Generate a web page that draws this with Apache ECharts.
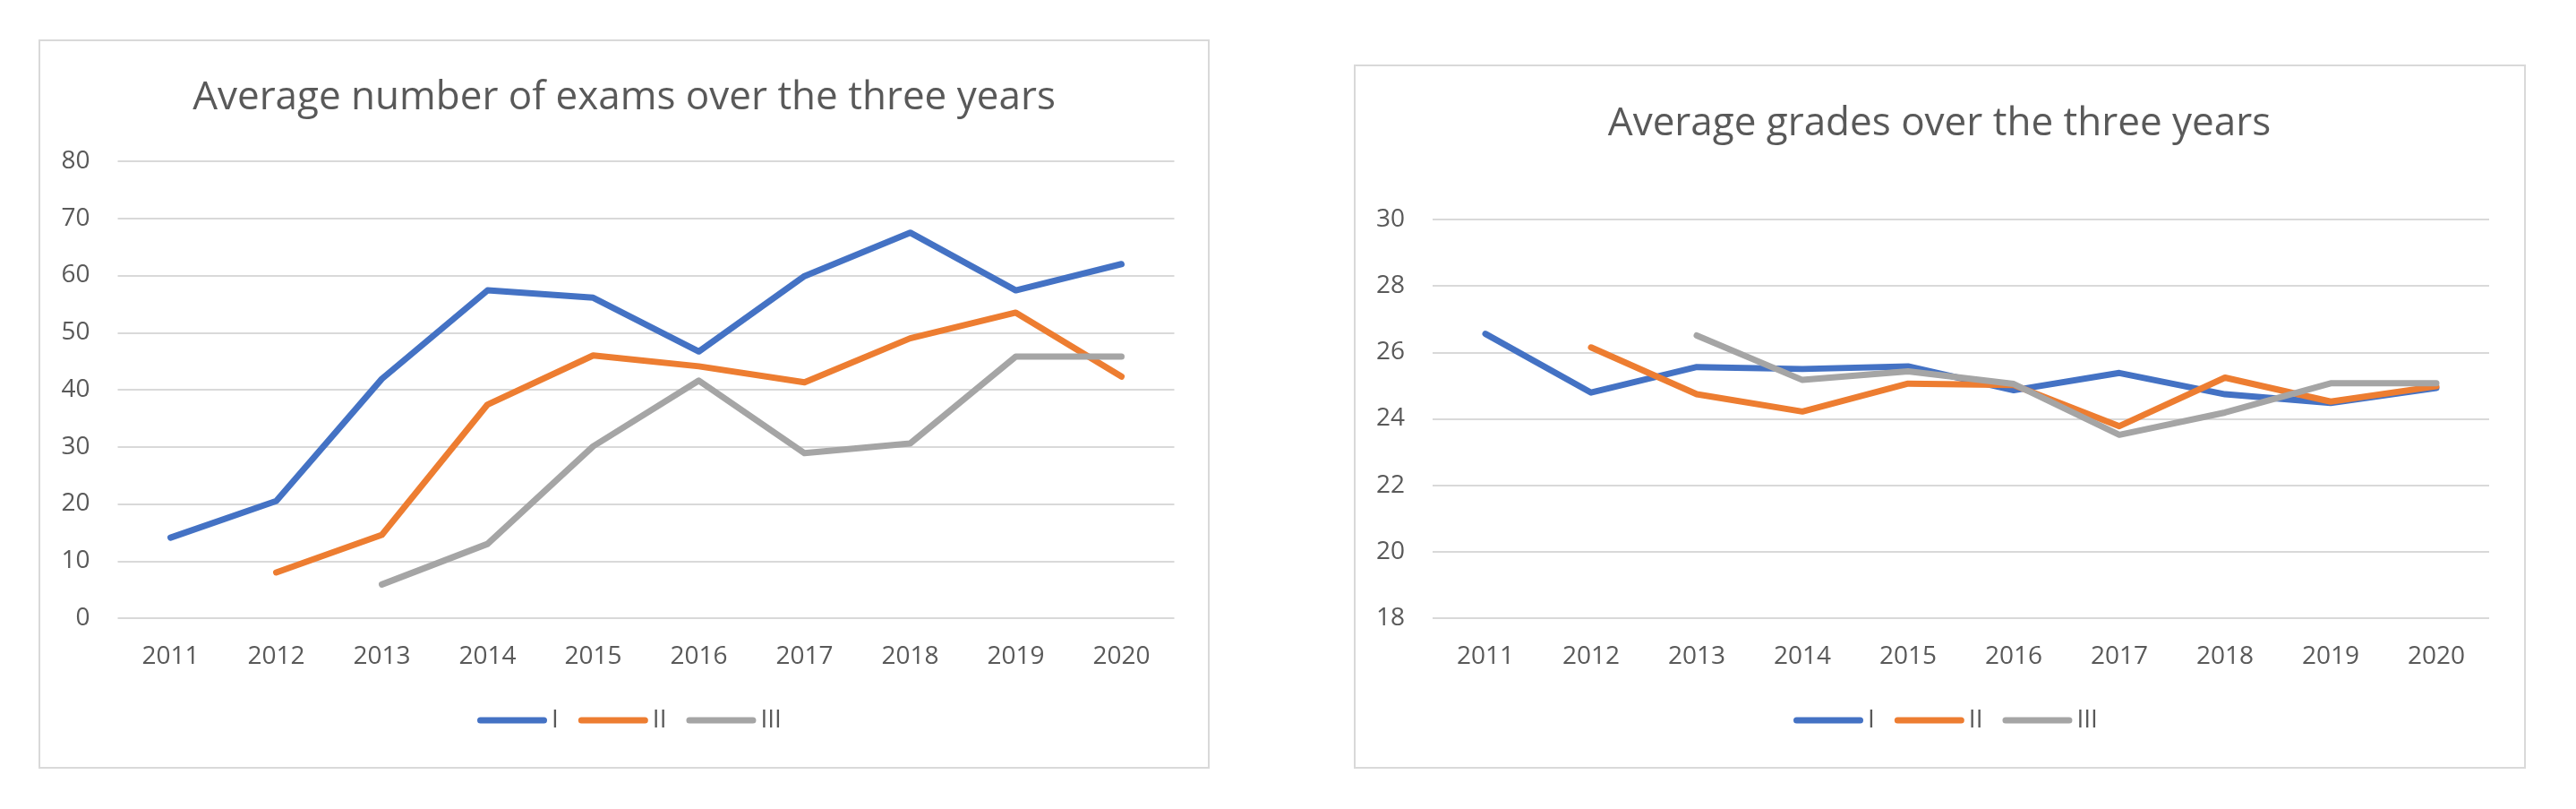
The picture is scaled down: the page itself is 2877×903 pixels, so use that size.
<!DOCTYPE html>
<html>
<head>
<meta charset="utf-8">
<script src="https://cdn.jsdelivr.net/npm/echarts@6/dist/echarts.min.js"></script>
<style>
html,body{margin:0;padding:0;background:#ffffff;}
#chart{width:2877px;height:903px;}
</style>
</head>
<body>
<div id="chart"></div>
<script>
// ---- data ----
var categories = ['2011','2012','2013','2014','2015','2016','2017','2018','2019','2020'];
var seriesNames = ['I','II','III'];
var examsI   = [14.1, 20.5, 41.9, 57.4, 56.1, 46.7, 59.9, 67.5, 57.4, 62.0];
var examsII  = [null, 8.0, 14.6, 37.4, 46.0, 44.1, 41.3, 49.0, 53.5, 42.3];
var examsIII = [null, null, 5.9, 13.0, 30.1, 41.6, 28.9, 30.6, 45.8, 45.8];
var gradesI   = [26.56, 24.79, 25.56, 25.50, 25.58, 24.86, 25.38, 24.74, 24.48, 24.93];
var gradesII  = [null, 26.15, 24.74, 24.22, 25.06, 25.02, 23.78, 25.24, 24.52, 24.98];
var gradesIII = [null, null, 26.51, 25.17, 25.43, 25.05, 23.52, 24.19, 25.07, 25.07];
var titleLeft = 'Average number of exams over the three years';
var titleRight = 'Average grades over the three years';

// ---- styles ----
var colors = ['#4472C4', '#ED7D31', '#A5A5A5'];
var textColor = '#595959';
var gridColor = '#D9D9D9';
var FONT = '"Open Sans", sans-serif';
var capsule = 'path://M3.5,0 L74.5,0 A3.5,3.5 0 0 1 74.5,7 L3.5,7 A3.5,3.5 0 0 1 3.5,0 Z';

var chart = echarts.init(document.getElementById('chart'), null, {renderer: 'canvas'});

function xAxis(gi) {
  return {
    type: 'category', gridIndex: gi, data: categories, boundaryGap: true,
    axisLine: {show: false}, axisTick: {show: false},
    axisLabel: {color: textColor, fontSize: 28, fontFamily: FONT, margin: 29}
  };
}
function yAxis(gi, min, max, interval) {
  return {
    type: 'value', gridIndex: gi, min: min, max: max, interval: interval,
    axisLine: {show: false}, axisTick: {show: false},
    axisLabel: {color: textColor, fontSize: 28, fontFamily: FONT, margin: 31},
    splitLine: {show: true, lineStyle: {color: gridColor, width: 2}}
  };
}
function line(name, data, gi, ci) {
  return {
    name: name, type: 'line', xAxisIndex: gi, yAxisIndex: gi, data: data,
    symbol: 'none', connectNulls: false,
    itemStyle: {color: colors[ci]},
    lineStyle: {color: colors[ci], width: 7, cap: 'round', join: 'round'},
    emphasis: {disabled: true}
  };
}
function legend(left) {
  return {
    left: left, top: 790, padding: 0, orient: 'horizontal',
    data: seriesNames, icon: capsule, itemWidth: 78, itemHeight: 7, itemGap: 22,
    itemStyle: {borderWidth: 0},
    textStyle: {color: textColor, fontSize: 28, fontFamily: FONT},
    selectedMode: false
  };
}

var option = {
  animation: false,
  backgroundColor: '#ffffff',
  textStyle: {fontFamily: FONT},
  title: [
    {text: titleLeft, left: 697, top: 87, textAlign: 'center', padding: 0,
     textStyle: {color: textColor, fontSize: 44, fontWeight: 'normal', fontFamily: FONT}},
    {text: titleRight, left: 2166, top: 116, textAlign: 'center', padding: 0,
     textStyle: {color: textColor, fontSize: 44, fontWeight: 'normal', fontFamily: FONT}}
  ],
  graphic: [
    {type: 'rect', shape: {x: 44, y: 45, width: 1306, height: 812},
     style: {fill: 'none', stroke: gridColor, lineWidth: 2}, silent: true, z: -10},
    {type: 'rect', shape: {x: 1513, y: 73, width: 1307, height: 784},
     style: {fill: 'none', stroke: gridColor, lineWidth: 2}, silent: true, z: -10}
  ],
  legend: [legend(533), legend(2003)],
  grid: [
    {left: 131.5, top: 180, width: 1180, height: 510, containLabel: false},
    {left: 1600, top: 245, width: 1180, height: 445, containLabel: false}
  ],
  xAxis: [xAxis(0), xAxis(1)],
  yAxis: [yAxis(0, 0, 80, 10), yAxis(1, 18, 30, 2)],
  series: [
    line('I', examsI, 0, 0),
    line('II', examsII, 0, 1),
    line('III', examsIII, 0, 2),
    line('I', gradesI, 1, 0),
    line('II', gradesII, 1, 1),
    line('III', gradesIII, 1, 2)
  ]
};
chart.setOption(option);
</script>
</body>
</html>
